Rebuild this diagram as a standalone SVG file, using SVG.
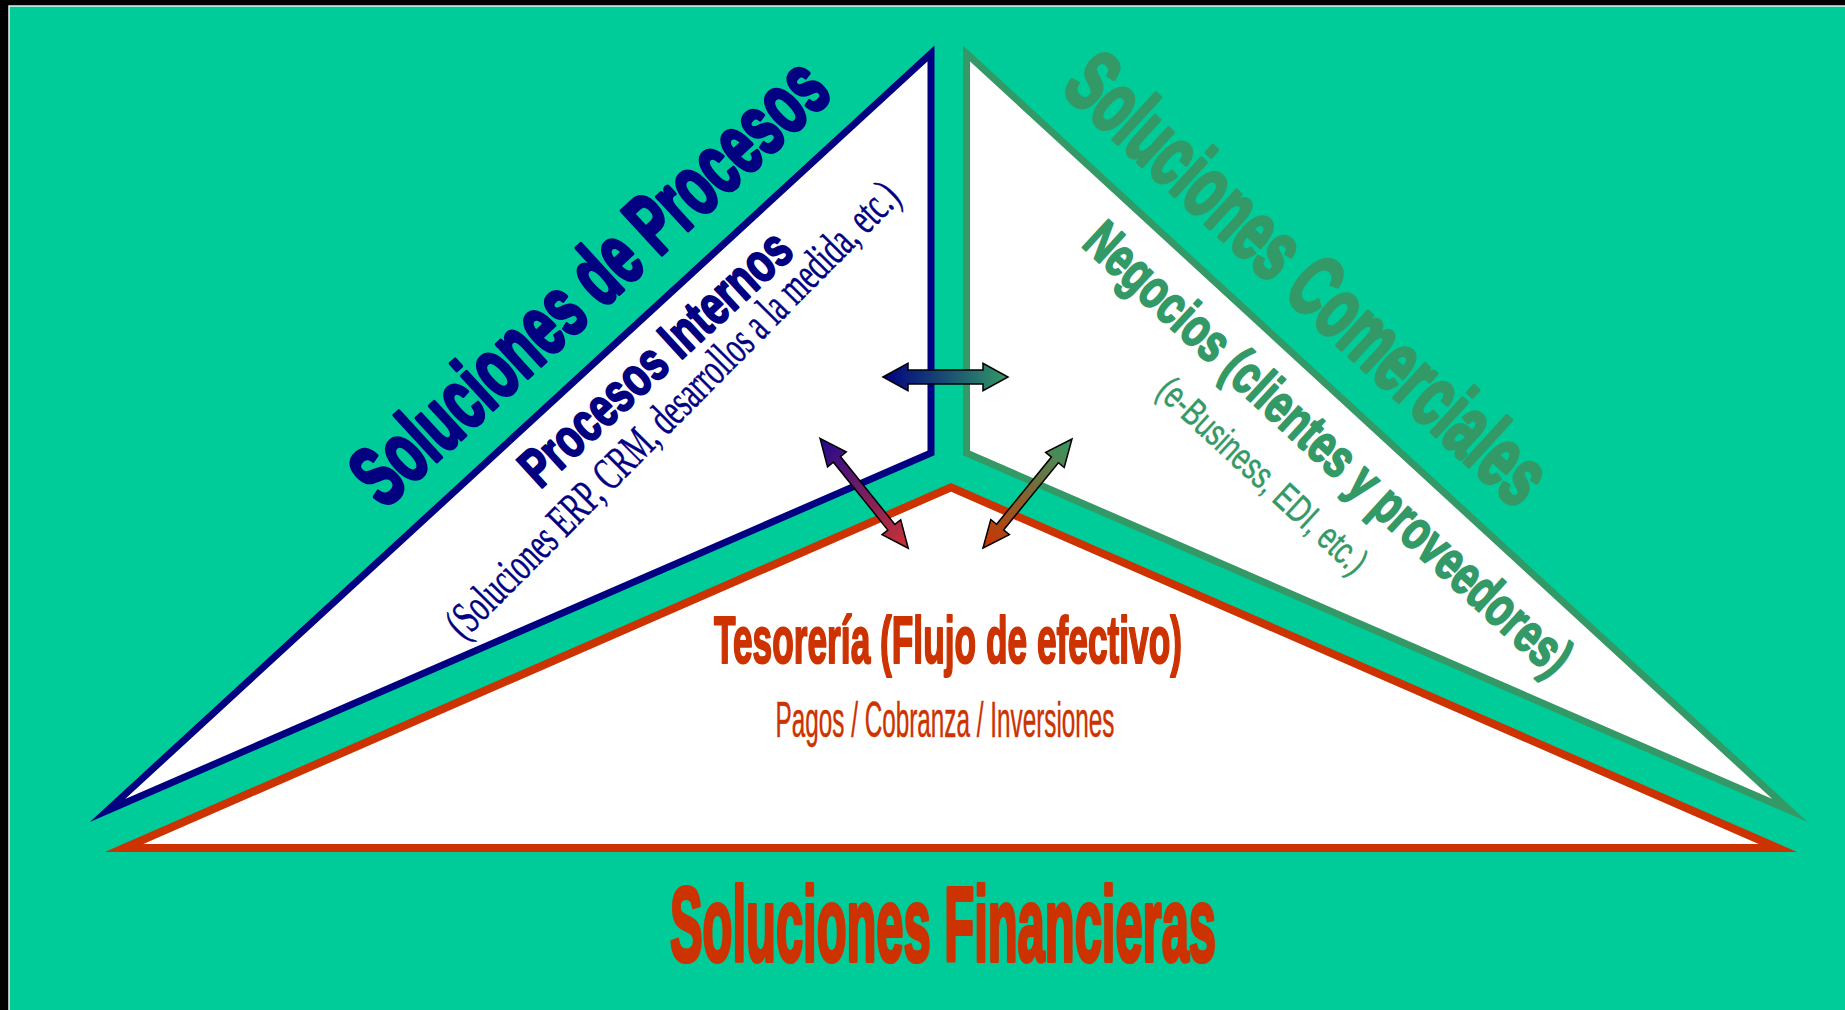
<svg xmlns="http://www.w3.org/2000/svg" width="1845" height="1010" viewBox="0 0 1845 1010">
<defs>
<linearGradient id="gH" x1="0" y1="0" x2="1" y2="0"><stop offset="0" stop-color="#000080"/><stop offset="1" stop-color="#339966"/></linearGradient>
<linearGradient id="gL" x1="0" y1="0" x2="1" y2="0"><stop offset="0" stop-color="#22088e"/><stop offset="1" stop-color="#cc3333"/></linearGradient>
<linearGradient id="gR" x1="0" y1="0" x2="1" y2="0"><stop offset="0" stop-color="#cc3300"/><stop offset="1" stop-color="#339966"/></linearGradient>
<style>
.tri{fill:#ffffff;stroke-linejoin:miter;stroke-miterlimit:12}
.b{font-family:'Liberation Sans Narrow','Liberation Sans',Arial,sans-serif;font-weight:bold;stroke-linejoin:round}
.r{font-family:'Liberation Sans Narrow','Liberation Sans',Arial,sans-serif}
.s{font-family:'Liberation Serif','Times New Roman',serif}
.arr{stroke:#000000;stroke-width:1.5;stroke-linejoin:miter}
.navy{fill:#000080;stroke:#000080}
.green{fill:#339966;stroke:#339966}
.red{fill:#cc3300;stroke:#cc3300}
.h1{stroke-width:4.2}
.h2{stroke-width:2.2}
.h0{stroke-width:0.5}
</style>
</defs>
<rect x="0" y="0" width="1845" height="1010" fill="#000000"/>
<rect x="9" y="6" width="1850" height="1020" fill="#00cc99" stroke="#eeeeee" stroke-width="1.5"/>

<g id="procesos">
<polygon class="tri" points="931,53.5 931,453 107.5,810.5" stroke="#000080" stroke-width="7"/>
<text class="b navy h1" x="609" y="303" transform="rotate(-42.6 609 303)" text-anchor="middle" font-size="86" textLength="612" lengthAdjust="spacingAndGlyphs">Soluciones de Procesos</text>
<text class="b navy h2" x="668" y="372" transform="rotate(-42.6 668 372)" text-anchor="middle" font-size="55" textLength="348" lengthAdjust="spacingAndGlyphs">Procesos Internos</text>
<text class="s navy h0" x="683" y="420" transform="rotate(-45.2 683 420)" text-anchor="middle" font-size="46" textLength="622" lengthAdjust="spacingAndGlyphs">(Soluciones ERP, CRM, desarrollos a la medida, etc.)</text>
</g>

<g id="comerciales">
<polygon class="tri" points="966.5,53.5 966.5,453 1790,810.5" stroke="#339966" stroke-width="7"/>
<text class="b green h1" x="1288" y="300" transform="rotate(42.6 1288 300)" text-anchor="middle" font-size="86" textLength="620" lengthAdjust="spacingAndGlyphs">Soluciones Comerciales</text>
<text class="b green h2" x="1316" y="462" transform="rotate(42.6 1316 462)" text-anchor="middle" font-size="55" textLength="640" lengthAdjust="spacingAndGlyphs">Negocios (clientes y proveedores)</text>
<text class="r green h0" x="1254" y="485" transform="rotate(42.6 1254 485)" text-anchor="middle" font-size="38" textLength="270" lengthAdjust="spacingAndGlyphs">(e-Business, EDI, etc.)</text>
</g>

<g id="financieras">
<polygon class="tri" points="951,487.4 1778,848 124,848" stroke="#cc3300" stroke-width="8"/>
<text class="b red h2" x="948" y="663" text-anchor="middle" font-size="67" textLength="468" lengthAdjust="spacingAndGlyphs">Tesorería (Flujo de efectivo)</text>
<text class="r red h0" x="945" y="737" text-anchor="middle" font-size="50" textLength="339" lengthAdjust="spacingAndGlyphs">Pagos / Cobranza / Inversiones</text>
<text class="b red h1" x="943" y="961" text-anchor="middle" font-size="105" textLength="546" lengthAdjust="spacingAndGlyphs">Soluciones Financieras</text>
</g>

<g id="connectors">
<path class="arr" fill="url(#gH)" transform="translate(883,377)" d="M0,0 L25,-13.7 L25,-7 L100,-7 L100,-13.7 L125,0 L100,13.7 L100,7 L25,7 L25,13.7 Z"/>
<path class="arr" fill="url(#gL)" transform="translate(820,438.3) rotate(51.25)" d="M0,0 L27,-12 L27,-4.5 L114,-4.5 L114,-12 L141,0 L114,12 L114,4.5 L27,4.5 L27,12 Z"/>
<path class="arr" fill="url(#gR)" transform="translate(983,548) rotate(-50.77)" d="M0,0 L27,-12 L27,-4.5 L113.7,-4.5 L113.7,-12 L140.7,0 L113.7,12 L113.7,4.5 L27,4.5 L27,12 Z"/>
</g>
</svg>
